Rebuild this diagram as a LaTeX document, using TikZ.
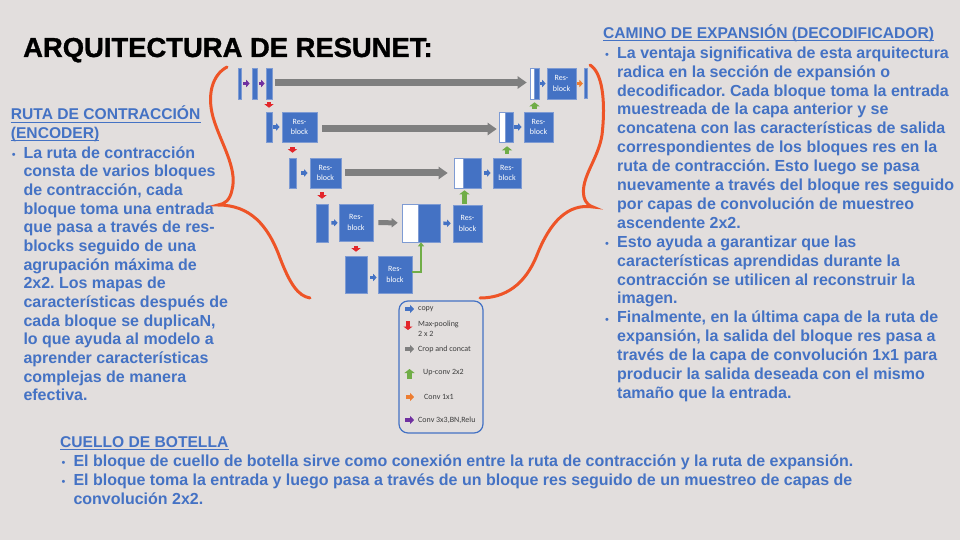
\documentclass[tikz,border=0pt]{standalone}
\usepackage{fontspec}
\setmainfont{Liberation Sans}
\newfontfamily\legfont{Carlito}
\newfontfamily\titlefont[FakeBold=1.2]{Liberation Sans Bold}
\usetikzlibrary{arrows.meta,calc}
\definecolor{bg}{HTML}{E2DEDD}
\definecolor{ublue}{HTML}{4472C4}
\definecolor{bord}{HTML}{7E9BD3}
\definecolor{garr}{HTML}{7F7F7F}
\definecolor{redc}{HTML}{E3262B}
\definecolor{grn}{HTML}{70AD47}
\definecolor{orng}{HTML}{ED7D31}
\definecolor{purp}{HTML}{7030A0}
\definecolor{brc}{HTML}{EE5427}
\definecolor{legtxt}{HTML}{3E3E3E}
\newenvironment{lns}{\begin{tabular}[t]{@{}l@{}}}{\end{tabular}}
\frenchspacing
\begin{document}
\begin{tikzpicture}[x=1pt,y=-1pt,
  bx/.style={rectangle, fill=ublue, draw=bord, line width=0.6pt, inner sep=0pt, text=white, font=\legfont\fontsize{8}{10.5}\selectfont, align=center},
  wbx/.style={rectangle, fill=white, draw=bord, line width=0.6pt, inner sep=0pt},
  grayarr/.style={draw=garr, line width=7pt, -{Triangle[width=12pt,length=9pt]}},
  grayarrs/.style={draw=garr, line width=5pt, -{Triangle[width=9pt,length=6pt]}},
  cparr/.style={draw=ublue, line width=3.5pt, -{Triangle[width=7pt,length=3.5pt]}},
  purarr/.style={cparr, draw=purp},
  orarr/.style={cparr, draw=orng},
  redarr/.style={draw=redc, line width=4.5pt, -{Triangle[width=9pt,length=3.5pt]}},
  grarr/.style={draw=grn, line width=4.5pt, -{Triangle[width=10pt,length=4pt]}},
  grline/.style={draw=grn, line width=2pt, -{Triangle[width=6pt,length=4pt]}},
  brace/.style={draw=brc, line width=3pt, line cap=round},
  body/.style={anchor=base west, text=ublue, font=\bfseries\fontsize{16}{18.9}\selectfont, inner sep=0pt},
  head/.style={anchor=base west, text=ublue, font=\bfseries\fontsize{15.6}{18.65}\selectfont, inner sep=0pt},
  uline/.style={draw=ublue, line width=1.1pt},
  bul/.style={anchor=base west, text=ublue, font=\fontsize{11}{12}\selectfont, inner sep=0pt},
  legt/.style={anchor=west, text=legtxt, align=left, font=\legfont\fontsize{8}{10.5}\selectfont, inner sep=0pt},
]
\useasboundingbox (0,0) rectangle (960,540);
\fill[bg] (0,0) rectangle (960,540);

% title
\node[anchor=base west, inner sep=0pt, font=\titlefont\fontsize{27.4}{30}\selectfont] (title) at (23,57) {ARQUITECTURA DE RESUNET:};

% ---------- network ----------
% row 1
\node[bx, minimum width=3pt, minimum height=31pt] (b1a) at (239.5,83.5) {};
\node[bx, minimum width=5pt, minimum height=31pt] (b1b) at (254.5,83.5) {};
\node[bx, minimum width=6pt, minimum height=31pt] (b1c) at (269,83.5) {};
\node[bx, minimum width=9pt, minimum height=31pt] (c1) at (534.5,83.5) {};
\node[wbx, minimum width=4pt, minimum height=31pt, anchor=west] (c1w) at (c1.west) {};
\node[bx, minimum width=29pt, minimum height=31pt] (R1) at (561.5,83.5) {Res-\\block};
\node[bx, minimum width=2.5pt, minimum height=30pt] (out) at (586,83.5) {};
% row 2
\node[bx, minimum width=6pt, minimum height=30pt] (b2) at (269,127) {};
\node[bx, minimum width=35pt, minimum height=30pt] (E2) at (299.5,127) {Res-\\block};
\node[bx, minimum width=14pt, minimum height=30pt] (c2) at (506,127) {};
\node[wbx, minimum width=6pt, minimum height=30pt, anchor=west] (c2w) at (c2.west) {};
\node[bx, minimum width=29pt, minimum height=30pt] (D2) at (538.5,127) {Res-\\block};
% row 3
\node[bx, minimum width=7pt, minimum height=30pt] (b3) at (292.5,173) {};
\node[bx, minimum width=31pt, minimum height=30pt] (E3) at (325.5,173) {Res-\\block};
\node[bx, minimum width=27pt, minimum height=30pt] (c3) at (467.5,173) {};
\node[wbx, minimum width=9pt, minimum height=30pt, anchor=west] (c3w) at (c3.west) {};
\node[bx, minimum width=28pt, minimum height=30pt] (D3) at (507,173) {Res-\\block};
% row 4
\node[bx, minimum width=12pt, minimum height=38pt] (b4) at (322,223) {};
\node[bx, minimum width=34pt, minimum height=37pt] (E4) at (356,222.5) {Res-\\block};
\node[bx, minimum width=38pt, minimum height=38pt] (c4) at (421,223) {};
\node[wbx, minimum width=16pt, minimum height=38pt, anchor=west] (c4w) at (c4.west) {};
\node[bx, minimum width=29pt, minimum height=37pt] (D4) at (467.5,223.5) {Res-\\block};
% row 5
\node[bx, minimum width=22pt, minimum height=37pt] (b5) at (356,274.5) {};
\node[bx, minimum width=34pt, minimum height=37pt] (B) at (395,274.5) {Res-\\block};

% connectors row 1
\draw[purarr, shorten <=2pt, shorten >=2pt] (b1a) -- (b1b);
\draw[purarr, shorten <=2pt, shorten >=1pt] (b1b) -- (b1c);
\draw[grayarr, shorten <=3pt, shorten >=3pt] ([yshift=1pt]b1c.east) -- ([yshift=1pt]c1.west);
\draw[cparr, shorten <=1pt, shorten >=1pt] (c1) -- (R1);
\draw[orarr, shorten <=1pt, shorten >=1.5pt] (R1) -- (out);
% row 2
\draw[cparr, shorten <=1pt, shorten >=2pt] (b2) -- (E2);
\draw[grayarr, shorten <=5pt, shorten >=2pt] ([yshift=-2pt]E2.east) -- ([yshift=-2pt]c2.west);
\draw[cparr, shorten <=1pt, shorten >=2pt] (c2) -- (D2);
% row 3
\draw[cparr, shorten <=5pt, shorten >=2pt] (b3) -- (E3);
\draw[grayarr, shorten <=4pt, shorten >=6pt] (E3) -- (c3);
\draw[cparr, shorten <=3pt, shorten >=2pt] (c3) -- (D3);
% row 4
\draw[cparr, shorten <=3pt, shorten >=1pt] (b4) -- (E4);
\draw[grayarrs, shorten <=5pt, shorten >=4pt] (E4) -- (c4);
\draw[cparr, shorten <=3pt, shorten >=2pt] (c4) -- (D4);
% row 5
\draw[cparr, shorten <=3pt, shorten >=1pt] ([yshift=-3pt]b5.east) -- ([yshift=-3pt]B.west);
% max-pooling
\draw[redarr, shorten <=3pt, shorten >=4pt] (b1c.south) -- (b2.north);
\draw[redarr, shorten <=5pt, shorten >=5pt] (b3.north |- E2.south) -- (b3.north);
\draw[redarr, shorten <=4pt, shorten >=5pt] (E3.south -| b4.north) -- (b4.north);
\draw[redarr, shorten <=5pt, shorten >=4pt] (E4.south) -- (b5.north);
% up-conv
\draw[grarr, shorten <=3pt, shorten >=3pt] (c1.south |- D2.north) -- (c1.south);
\draw[grarr, shorten <=4pt, shorten >=4pt] (D3.north) -- (D3.north |- c2.south);
\draw[grarr, shorten <=1pt, shorten >=2pt] ([xshift=-3pt]D4.north) -- ([xshift=-3pt]D4.north |- c3.south);
\draw[grline] ([yshift=2.5pt]B.east) -| (c4.south);

% braces
\draw[brace] (227,67) .. controls (212,75) and (207,95) .. (213,117)
  .. controls (220,142) and (238,168) .. (232,190)
  .. controls (230,200) and (225,204) .. (218,205)
  .. controls (250,205) and (268,225) .. (280,258)
  .. controls (290,284) and (298,296) .. (310,298);
\draw[brace] (590,65) .. controls (602,72) and (606,100) .. (602,135)
  .. controls (598,160) and (580,178) .. (584,197)
  .. controls (586,204) and (590,206) .. (593,207)
  .. controls (568,203) and (550,222) .. (537,255)
  .. controls (525,285) and (505,298) .. (480,298);

% legend
\node[draw=ublue, line width=1.2pt, rounded corners=9pt, minimum width=84pt, minimum height=132pt] (leg) at (441,367) {};
\node[legt] (lt1) at (418,309) {copy};
\node[legt] (lt2) at (418,328.5) {Max-pooling\\2 x 2};
\node[legt] (lt3) at (418,349) {Crop and concat};
\node[legt] (lt4) at (423,373) {Up-conv 2x2};
\node[legt] (lt5) at (424,397) {Conv 1x1};
\node[legt] (lt6) at (418,420) {Conv 3x3,BN,Relu};
\coordinate (i1) at (405,309);
\coordinate (i2) at (408,321);
\coordinate (i3) at (405,349);
\coordinate (i4) at (409.5,379);
\coordinate (i5) at (406,397);
\coordinate (i6) at (405,420);
\draw[cparr, line width=4pt, -{Triangle[width=8pt,length=4pt]}] (i1) -- ++(9pt,0);
\draw[redarr] (i2) -- ++(0,-9pt);
\draw[draw=garr, line width=4pt, -{Triangle[width=8pt,length=4pt]}] (i3) -- ++(9pt,0);
\draw[grarr] (i4) -- ++(0,10pt);
\draw[orarr, line width=4pt, -{Triangle[width=8pt,length=4pt]}] (i5) -- ++(8pt,0);
\draw[purarr, line width=4pt, -{Triangle[width=8pt,length=4pt]}] (i6) -- ++(9pt,0);

% left text
\node[head] (lh1) at (10.7,120) {RUTA DE CONTRACCIÓN};
\node[head] (lh2) at (10.7,138.65) {(ENCODER)};
\draw[uline] ([yshift=-2.2pt]lh1.base west) -- ([yshift=-2.2pt]lh1.base east);
\draw[uline] ([yshift=-2.2pt]lh2.base west) -- ([yshift=-2.2pt]lh2.base east);
\node[bul] (lb1) at (11.7,158.3) {•};
\node[body, font=\bfseries\fontsize{16}{18.65}\selectfont] (lt) at (23.3,158.3) {\begin{lns}La ruta de contracción\\
consta de varios bloques\\
de contracción, cada\\
bloque toma una entrada\\
que pasa a través de res-\\
blocks seguido de una\\
agrupación máxima de\\
2x2. Los mapas de\\
características después de\\
cada bloque se duplicaN,\\
lo que ayuda al modelo a\\
aprender características\\
complejas de manera\\
efectiva.\end{lns}};

% right text
\node[head] (rh) at (603,38.3) {CAMINO DE EXPANSIÓN (DECODIFICADOR)};
\draw[uline] ([yshift=-2.2pt]rh.base west) -- ([yshift=-2.2pt]rh.base east);
\node[bul] (rb1) at (605,58.3) {•};
\node[bul] (rb2) at (605,247.3) {•};
\node[bul] (rb3) at (605,323) {•};
\node[body] (rt) at (617,58.3) {\begin{lns}La ventaja significativa de esta arquitectura\\
radica en la sección de expansión o\\
decodificador. Cada bloque toma la entrada\\
muestreada de la capa anterior y se\\
concatena con las características de salida\\
correspondientes de los bloques res en la\\
ruta de contracción. Esto luego se pasa\\
nuevamente a través del bloque res seguido\\
por capas de convolución de muestreo\\
ascendente 2x2.\\
Esto ayuda a garantizar que las\\
características aprendidas durante la\\
contracción se utilicen al reconstruir la\\
imagen.\\
Finalmente, en la última capa de la ruta de\\
expansión, la salida del bloque res pasa a\\
través de la capa de convolución 1x1 para\\
producir la salida deseada con el mismo\\
tamaño que la entrada.\end{lns}};

% bottom text
\node[head] (bh) at (60,447.3) {CUELLO DE BOTELLA};
\draw[uline] ([yshift=-2.2pt]bh.base west) -- ([yshift=-2.2pt]bh.base east);
\node[bul] (bb1) at (61.5,466.7) {•};
\node[bul] (bb2) at (61.5,485.6) {•};
\node[body] (bt) at (73.3,466.7) {\begin{lns}El bloque de cuello de botella sirve como conexión entre la ruta de contracción y la ruta de expansión.\\
El bloque toma la entrada y luego pasa a través de un bloque res seguido de un muestreo de capas de\\
convolución 2x2.\end{lns}};
\end{tikzpicture}
\end{document}
